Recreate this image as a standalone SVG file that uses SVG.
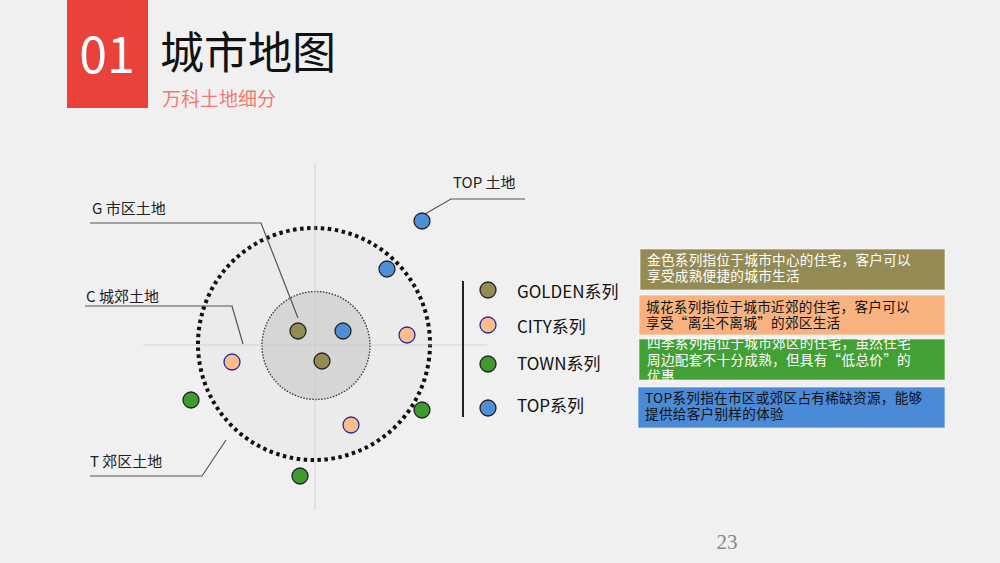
<svg xmlns="http://www.w3.org/2000/svg" width="1000" height="563" viewBox="0 0 1000 563">
<style>
text{font-family:"Noto Sans CJK SC","Noto Sans",sans-serif;}
.lbl{font-size:15px;fill:#222;}
.leg{font-size:17px;fill:#111;}
.box{font-size:13.6px;letter-spacing:0.3px;}
.lead{fill:none;stroke:#555;stroke-width:1.2;}
.g{fill:#948b54;stroke:#222;stroke-width:1.3;}
.c{fill:#f9be8c;stroke:#2a2aa0;stroke-width:1.3;}
.t{fill:#3f9a2f;stroke:#222;stroke-width:1.3;}
.p{fill:#4f8fd8;stroke:#222;stroke-width:1.3;}
</style>
<rect width="1000" height="563" fill="#f0f0f0"/>
<g id="header">
<rect x="67" y="0" width="81" height="108" fill="#e8423a"/>
<text x="107" y="73" font-size="50" fill="#fff" text-anchor="middle">01</text>
<text x="160" y="69" font-size="44" fill="#111">城市地图</text>
<text x="162" y="106" font-size="19" fill="#f07b74">万科土地细分</text>
</g>
<g id="map">
<circle cx="314" cy="344" r="116" fill="#ebebeb" stroke="#111" stroke-width="4" stroke-dasharray="3.5 3.5"/>
<circle cx="316" cy="345.5" r="54" fill="#d6d6d6" stroke="#333" stroke-width="1.3" stroke-dasharray="1.5 1.5"/>
<line x1="315" y1="163" x2="315" y2="510" stroke="#c8c8c8" stroke-width="1" opacity="0.7"/>
<line x1="143" y1="345" x2="487" y2="345" stroke="#c8c8c8" stroke-width="1" opacity="0.7"/>
</g>
<g id="connectors">
<polyline class="lead" points="525,199 451,199 425,214"/>
<polyline class="lead" points="90,223 261,223 298,318"/>
<polyline class="lead" points="85,306 232,306 243,344"/>
<polyline class="lead" points="90,476 202,476 226,440"/>
</g>
<g id="dots">
<circle class="g" cx="298" cy="331" r="8"/>
<circle class="g" cx="322" cy="361" r="8"/>
<circle class="p" cx="343" cy="331" r="8"/>
<circle class="p" cx="387" cy="269" r="8"/>
<circle class="p" cx="422" cy="221" r="8"/>
<circle class="c" cx="407" cy="335" r="8"/>
<circle class="c" cx="232" cy="362" r="8"/>
<circle class="c" cx="351" cy="425" r="8"/>
<circle class="t" cx="191" cy="400" r="8"/>
<circle class="t" cx="422" cy="410" r="8"/>
<circle class="t" cx="300" cy="476" r="8"/>
</g>
<g id="labels">
<text class="lbl" x="453" y="188">TOP 土地</text>
<text class="lbl" x="92" y="214">G 市区土地</text>
<text class="lbl" x="86" y="302">C 城郊土地</text>
<text class="lbl" x="90" y="467">T 郊区土地</text>
</g>
<g id="legend">
<line x1="463" y1="281" x2="463" y2="417" stroke="#222" stroke-width="2"/>
<circle class="g" cx="488" cy="290" r="8"/>
<circle class="c" cx="488" cy="325" r="8"/>
<circle class="t" cx="488" cy="364" r="8"/>
<circle class="p" cx="488" cy="408" r="8"/>
<text class="leg" x="517" y="298">GOLDEN系列</text>
<text class="leg" x="517" y="333">CITY系列</text>
<text class="leg" x="517" y="370">TOWN系列</text>
<text class="leg" x="517" y="412">TOP系列</text>
</g>
<g id="box-town">
<rect x="639" y="339" width="306" height="41" fill="#43a035" stroke="#fff" stroke-opacity="0.6"/>
<text class="box" fill="#fff" x="647" y="348">四季系列指位于城市郊区的住宅，虽然住宅<tspan x="647" dy="17">周边配套不十分成熟，但具有“低总价”的</tspan><tspan x="647" dy="16">优惠</tspan></text>
</g>
<g id="box-golden">
<rect x="640" y="249" width="305" height="41" fill="#948b54" stroke="#fff" stroke-opacity="0.6"/>
<text class="box" fill="#fff" x="647" y="265">金色系列指位于城市中心的住宅，客户可以<tspan x="647" dy="16">享受成熟便捷的城市生活</tspan></text>
</g>
<g id="box-city">
<rect x="639" y="295" width="306" height="40" fill="#f7b27f" stroke="#fff" stroke-opacity="0.6"/>
<text class="box" fill="#111" x="646" y="312">城花系列指位于城市近郊的住宅，客户可以<tspan x="646" dy="16">享受“离尘不离城”的郊区生活</tspan></text>
</g>
<g id="box-top">
<rect x="638" y="387" width="307" height="41" fill="#4a8ad6" stroke="#fff" stroke-opacity="0.6"/>
<text class="box" fill="#111" x="645" y="403">TOP系列指在市区或郊区占有稀缺资源，能够<tspan x="645" dy="16">提供给客户别样的体验</tspan></text>
</g>
<text x="727" y="549" font-size="21" fill="#888" text-anchor="middle" style="font-family:'Liberation Serif',serif">23</text>
</svg>
